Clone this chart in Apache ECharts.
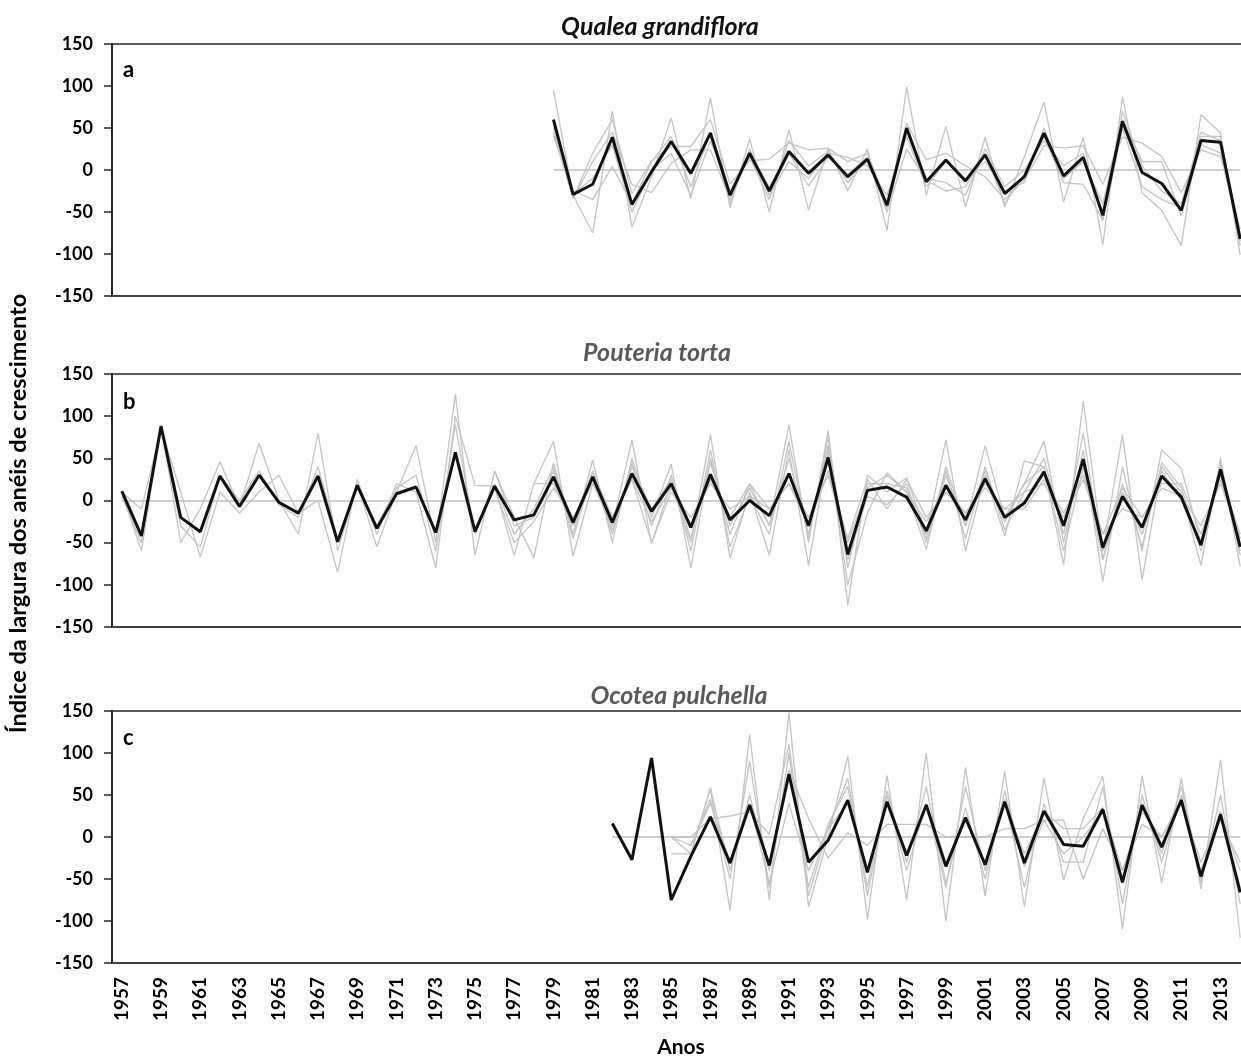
<!DOCTYPE html>
<html>
<head>
<meta charset="utf-8">
<script src="https://cdn.jsdelivr.net/npm/echarts@6/dist/echarts.min.js"></script>
<style>
  html, body { margin: 0; padding: 0; background: #fff; }
  #chart { width: 1241px; height: 1061px; }
</style>
</head>
<body>
<div id="chart"></div>
<script>
// anos (categorias)
const years = ['1957','1958','1959','1960','1961','1962','1963','1964','1965','1966',
  '1967','1968','1969','1970','1971','1972','1973','1974','1975','1976',
  '1977','1978','1979','1980','1981','1982','1983','1984','1985','1986',
  '1987','1988','1989','1990','1991','1992','1993','1994','1995','1996',
  '1997','1998','1999','2000','2001','2002','2003','2004','2005','2006',
  '2007','2008','2009','2010','2011','2012','2013','2014']

// a: Qualea grandiflora (1979-2014)
const qualeaStart = '1979'
const qualeaMean = [60,-29,-17,39,-41,-2,34,-4,44,-30, 20,-25,22,-4,18,-8,13,-42,50,-14,
  12,-13,18,-28,-8,44,-7,15,-54,58, -3,-16,-48,35,33,-82]
const qualeaTrees = [
  [95,-30,-75,70,-68,-8,62,-34,86,-45, 37,-50,48,-48,26,-25,25,-72,99,-30, 52,-44,39,-44,16,81,-38,39,-89,87, -27,-48,-90,66,44,-101],
  [50,-34,20,60,-28,11,28,28,60,-17, 11,13,32,24,26,10,20,-40,56,12, 20,5,-8,-35,-12,29,26,29,-17,39, 32,16,-27,24,16,-70],
  [44,-34,10,45,-17,-27,8,24,24,-35, 20,-20,20,-19,15,-5,15,-50,25,-12, -25,-20,20,-40,-5,40,-15,-17,-60,50, -20,-35,-45,40,40,-85],
  [40,-25,-35,4,-40,10,40,-20,45,-40, 25,-30,10,-10,20,15,5,-30,40,-20, 10,-10,10,-25,-15,50,-10,10,-40,60, 10,10,-55,30,20,-80],
  [55,-28,-10,30,-50,0,20,-30,35,-25, 15,-35,35,5,22,-15,12,-45,45,-10, -15,-30,25,-20,0,35,5,20,-60,70, 5,-25,-40,45,35,-90]
]

// b: Pouteria torta (1957-2014)
const pouteriaStart = '1957'
const pouteriaMean = [11,-42,88,-20,-37,29,-7,30,-2,-15, 29,-49,18,-33,8,16,-38,57,-37,17,
  -23,-17,28,-26,28,-26,32,-13,20,-32, 31,-23,0,-18,32,-30,51,-64,12,16,
  4,-36,18,-23,26,-20,-3,34,-30,49, -56,5,-32,29,4,-53,37,-55]
const pouteriaTrees = [
  { start: '1957', values: [10,-60,90,-50,-10,46,-8,68,0,-40, 80,-60,20,-55,10,65,-50,126,-65,35,
    -20,-68,45,-40,48,-50,50,-20,43,-80, 50,-40,20,-30,90,-50,83,-124,30,10,
    27,-40,72,-60,30,-42,47,40,-76,118, -60,78,-94,40,10,-77,50,-78] },
  { start: '1957', values: [10,-10,85,10,-67,10,-15,10,30,-15, 0,-85,25,-40,20,10,-80,100,18,17,
    -65,20,70,-66,20,-30,72,-51,20,-50, 78,-68,10,-65,60,-77,60,-100,-15,33,
    10,-58,40,-30,65,-20,20,70,-50,60, -96,40,-60,60,38,-50,30,-40] },
  { start: '1957', values: [5,-50,88,-30,-55,30,0,35,-5,-20, 40,-45,15,-30,15,30,-60,90,-40,20,
    -40,-10,40,-45,35,-40,45,-30,30,-60, 60,-55,5,-40,70,-45,75,-80,20,20,
    15,-45,35,-45,40,-35,10,50,-40,80, -70,20,-55,45,15,-60,45,-65] },
  { start: '1976', values: [35,-30,-20,35,-30,25,-35,40,-10,25, -45,45,-30,15,-30,50,-40,65,-70,5,
    -5,20,-50,30,-30,35,-25,20,40,-60, 40,-70,10,-40,35,0,-50,40,-60] },
  { start: '1978', values: [20,20,-30,35,-20,25,-25,15,-30,25, -20,20,-10,20,-30,35,-45,25,-10,25,
    -20,10,-15,20,-10,-10,25,-15,30,-40, -10,-20,20,20,-40,25,-45] },
  { start: '1976', values: [15,-50,-25,15,-20,20,-20,25,-50,10, -20,20,-10,5,-10,20,-20,30,-50,15,
    30,10,-25,15,-15,15,-10,10,20,-20, 25,-40,15,-20,15,5,-30,20,-45] }
]

// c: Ocotea pulchella (1982-2014)
const ocoteaStart = '1982'
const ocoteaMean = [16,-27,94,-75,-23,24,-31,38,-34,75, -30,-4,44,-42,42,-22,38,-35,23,-33,
  42,-31,31,-9,-11,33,-54,38,-12,44, -47,27,-66]
const ocoteaTrees = [
  { start: '1985', values: [0,-20,58,-87,122,-75,148,-83,0,96, -98,73,-75,100,-100,83,-70,78,-83,70,
    -51,22,72,-110,73,-55,70,-62,92,-120] },
  { start: '1985', values: [0,0,22,25,30,3,110,-60,15,60, -60,55,-30,60,-55,35,-50,55,-35,20,
    20,-50,10,-40,15,0,40,-30,25,-40] },
  { start: '1985', values: [-20,-20,58,-40,50,-40,80,22,-25,5, -10,15,15,15,0,0,0,10,10,20,
    -20,0,30,-50,40,-20,60,-50,30,-60] },
  { start: '1986', values: [-10,45,-50,90,-60,100,-70,10,70, -70,50,-40,40,-60,60,-40,45,-60,40,
    -30,-30,60,-80,50,-30,50,-55,50,-80] },
  { start: '1985', values: [0,-10,40,-30,40,-55,40,-40,10,40, -40,40,-20,40,-30,20,-30,40,-20,30,
    10,10,35,-40,30,0,45,-40,20,-30] }
]

const yTicks = [-150, -100, -50, 0, 50, 100, 150]

// coloca os valores na posição do ano inicial
const pad = (start, values) => {
  const out = years.map(() => null)
  const i0 = years.indexOf(start)
  values.forEach((v, i) => { out[i0 + i] = v })
  return out
}

const FONT = 'Lato'
const grids = [
  { left: 112, top: 44, width: 1138, height: 252 },
  { left: 112, top: 374, width: 1138, height: 253 },
  { left: 112, top: 711, width: 1138, height: 252 }
].map(g => Object.assign(g, { show: true, borderColor: '#595959', borderWidth: 2, outerBoundsMode: 'none', containLabel: false }))

const xAxes = [0, 1, 2].map(i => ({
  type: 'category',
  gridIndex: i,
  data: years,
  boundaryGap: true,
  axisLine: { onZero: false, lineStyle: { color: '#404040', width: 2 } },
  axisTick: { show: false },
  axisLabel: i === 2 ? {
    interval: 1, rotate: 90, margin: 14,
    color: '#000', fontFamily: FONT, fontWeight: 'bold', fontSize: 19
  } : { show: false },
  name: i === 2 ? 'Anos' : '',
  nameLocation: 'middle',
  nameGap: 74,
  nameTextStyle: { color: '#000', fontFamily: FONT, fontWeight: 'bold', fontSize: 21 }
}))

const yAxes = [0, 1, 2].map(i => ({
  type: 'value',
  gridIndex: i,
  min: yTicks[0],
  max: yTicks[yTicks.length - 1],
  interval: 50,
  splitLine: { show: false },
  axisLine: { show: true, lineStyle: { color: '#262626', width: 2 } },
  axisTick: { show: true, length: 8, lineStyle: { color: '#262626', width: 1.5 } },
  axisLabel: { margin: 19, color: '#000', fontFamily: FONT, fontWeight: 'bold', fontSize: 18 },
  name: i === 1 ? 'Índice da largura dos anéis de crescimento' : '',
  nameLocation: 'middle',
  nameRotate: 90,
  nameGap: 82,
  nameTextStyle: { color: '#000', fontFamily: FONT, fontWeight: 'bold', fontSize: 23.5, padding: [0, 26, 0, 0] }
}))

const series = []
const addPanel = (idx, start, mean, trees) => {
  trees.forEach(t => {
    series.push({
      type: 'line', xAxisIndex: idx, yAxisIndex: idx,
      data: pad(t.start, t.values),
      symbol: 'none', silent: true,
      lineStyle: { color: '#c4c4c4', width: 1.3 }
    })
  })
  series.push({
    type: 'line', xAxisIndex: idx, yAxisIndex: idx,
    data: pad(start, mean),
    symbol: 'none', z: 5,
    lineStyle: { color: '#111', width: 3 },
    markLine: {
      silent: true, symbol: 'none', label: { show: false },
      lineStyle: { color: '#bfbfbf', width: 1.5, type: 'solid' },
      data: [[{ coord: [start, 0] }, { coord: ['2014', 0] }]]
    }
  })
}
addPanel(0, qualeaStart, qualeaMean, qualeaTrees.map(v => ({ start: qualeaStart, values: v })))
addPanel(1, pouteriaStart, pouteriaMean, pouteriaTrees)
addPanel(2, ocoteaStart, ocoteaMean, ocoteaTrees)

const titleText = (text, x, y, color) => ({
  type: 'text', x: x, y: y,
  style: { text: text, fill: color, align: 'center', verticalAlign: 'middle',
    font: 'italic bold 25px ' + FONT }
})
const letterText = (text, x, y) => ({
  type: 'text', x: x, y: y,
  style: { text: text, fill: '#000', align: 'left', verticalAlign: 'middle', font: 'bold 22px ' + FONT }
})

const option = {
  animation: false,
  graphic: [
    titleText('Qualea grandiflora', 660, 27, '#111'),
    titleText('Pouteria torta', 657, 353, '#595959'),
    titleText('Ocotea pulchella', 679, 696, '#595959'),
    letterText('a', 123, 70),
    letterText('b', 123, 402),
    letterText('c', 123, 738)
  ],
  grid: grids,
  xAxis: xAxes,
  yAxis: yAxes,
  series: series
}

const myChart = echarts.init(document.getElementById('chart'))
myChart.setOption(option)
</script>
</body>
</html>
